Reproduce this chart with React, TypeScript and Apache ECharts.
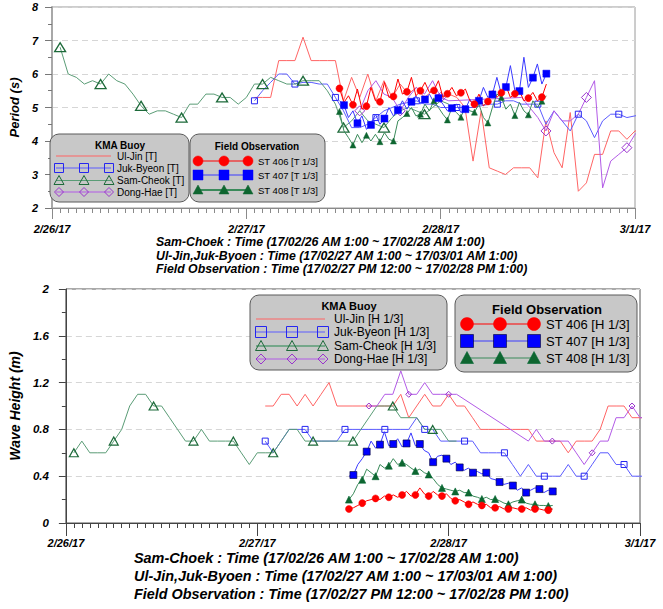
import React, { useEffect, useRef } from "react";
import * as echarts from "echarts";

// x values: hours after 2017-02-26 00:00
const dayLabels = ["2/26/17", "2/27/17", "2/28/17", "3/1/17"];

const samCheokStartHour = 1;
const ulJinStartHour = 25;
const jukByeonStartHour = 25;
const dongHaeHours = [38, 39, 40, 41, 42, 43, 44, 45, 46, 47, 48, 49, 58, 59, 60, 61, 62, 63, 64, 65, 66, 67, 68, 69, 70, 71, 72, 73];
const fieldStartHour = 35.5;
const fieldStepHours = 5 / 9;

// ---------- Period (s) ----------
const samCheokT = [6.8, 6.0, 5.9, 5.7, 5.8, 5.7, 6.0, 5.8, 5.7, 5.4,
  5.05, 4.8, 4.9, 4.9, 4.8, 4.7, 5.1, 5.1, 5.4, 5.4,
  5.3, 5.3, 5.1, 5.3, 5.7, 5.7, 5.9, 5.8, 5.7, 5.7,
  5.8, 5.8, 5.8, 5.5, 5.1, 4.4, 4.6, 4.9, 4.6, 4.5,
  4.4, 4.7, 4.9, 5.0, 4.9, 4.8, 5.0, 5.2, 5.1];
const ulJinT = [5.3, 5.3, 5.3, 6.4, 6.4, 6.4, 7.1, 6.4, 6.4, 6.4,
  6.4, 5.2, 5.9, 5.3, 6.0, 5.2, 5.8, 5.3, 5.7, 5.4,
  5.6, 5.3, 5.5, 5.3, 5.4, 5.3, 5.0, 3.4, 4.9, 3.2,
  3.1, 3.0, 3.2, 3.2, 3.2, 2.9, 4.6, 3.65, 3.2, 4.85,
  2.5, 2.75, 3.6, 3.6, 4.3, 4.3, 4.05, 4.3, 4.3];
const jukByeonT = [5.2, 5.5, 5.75, 6.0, 6.0, 5.7, 5.75, 5.75, 5.7, 5.7,
  5.3, 4.9, 4.4, 4.4, 4.5, 4.7, 4.9, 5.0, 5.1, 5.15,
  5.2, 5.1, 5.1, 5.0, 5.0, 5.0, 5.0, 5.0, 5.05, 5.1,
  5.1, 5.2, 5.2, 5.1, 5.1, 5.1, 4.5, 4.9, 4.6, 4.3,
  4.8, 4.6, 4.1, 4.6, 4.8, 4.8, 4.7, 4.75, 4.8];
const dongHaeT = [4.9, 5.5, 5.8, 5.4, 5.3, 4.9, 5.3, 5.6, 5.4, 5.8, 5.3, 5.2,
  5.3, 5.0, 4.7, 4.3, 4.9, 4.6, 4.6, 4.8, 5.3, 5.8, 2.6, 3.4, 3.6, 3.8, 4.2, 4.4];
const st406T = [5.57, 5.15, 5.35, 5.08, 5.55, 4.95, 5.04, 5.6, 5.2, 5.17,
  5.75, 5.3, 5.33, 5.85, 5.4, 5.47, 5.9, 5.35, 5.5, 5.75,
  5.45, 5.51, 5.8, 5.3, 5.41, 5.6, 5.35, 5.44, 5.55, 5.2,
  5.1, 5.4, 5.05, 5.18, 5.5, 5.3, 5.44, 5.65, 5.3, 5.41,
  5.5, 5.2, 5.28, 5.45, 5.2, 5.31, 5.7];
const st407T = [5.2, 5.07, 4.7, 4.9, 4.53, 4.75, 4.35, 4.48, 4.8, 4.5,
  4.67, 5.0, 4.75, 4.92, 5.2, 4.95, 5.17, 5.35, 5.1, 5.24,
  5.4, 5.15, 5.28, 5.1, 4.9, 4.98, 5.1, 4.85, 4.95, 5.25,
  5.0, 5.2, 5.6, 5.3, 5.39, 5.9, 5.4, 5.61, 6.25, 5.5,
  5.49, 6.5, 5.6, 5.89, 6.3, 5.7, 6.01];
const st408T = [4.88, 4.3, 4.1, 3.88, 4.2, 3.95, 4.17, 4.0, 4.2, 3.98,
  4.25, 4.05, 4.0, 4.6, 4.7, 4.82, 5.0, 4.75, 4.8, 5.1,
  4.9, 5.2, 5.0, 4.8, 4.63, 5.0, 4.85, 4.71, 5.05, 4.9,
  4.86, 5.1, 4.7, 4.54, 5.0, 5.4, 5.3, 4.95, 5.1, 4.76,
  5.15, 4.9, 4.78, 5.2, 5.0, 5.19, 5.35];

// ---------- Wave Height (m) ----------
const samCheokH = [0.6, 0.7, 0.6, 0.6, 0.6, 0.7, 0.8, 1.0, 1.1, 1.1,
  1.0, 1.0, 0.9, 0.8, 0.7, 0.7, 0.8, 0.7, 0.7, 0.7,
  0.7, 0.6, 0.5, 0.6, 0.6, 0.6, 0.7, 0.8, 0.8, 0.7,
  0.7, 0.7, 0.7, 0.7, 0.7, 0.7, 0.8, 0.9, 1.0, 1.0,
  1.0, 0.9, 0.9, 0.9, 0.8, 0.8, 0.8, 0.7, 0.7];
const ulJinH = [1.0, 1.0, 1.1, 1.1, 1.0, 1.1, 1.0, 1.1, 1.2, 1.0,
  1.0, 1.0, 1.0, 1.0, 1.0, 1.0, 1.0, 1.1, 0.9, 1.0,
  1.1, 1.0, 1.0, 1.1, 1.0, 1.0, 0.9, 0.8, 0.8, 0.8,
  0.8, 0.8, 0.8, 0.8, 0.7, 0.7, 0.7, 0.7, 0.6, 0.7,
  0.7, 0.7, 0.8, 1.0, 1.0, 1.0, 0.9, 0.9, 0.9];
const jukByeonH = [0.7, 0.6, 0.7, 0.8, 0.8, 0.8, 0.7, 0.7, 0.7, 0.7,
  0.8, 0.8, 0.8, 0.8, 0.8, 0.8, 0.8, 0.8, 0.8, 0.9,
  0.8, 0.8, 0.7, 0.7, 0.7, 0.7, 0.7, 0.6, 0.6, 0.6,
  0.6, 0.5, 0.4, 0.5, 0.4, 0.4, 0.4, 0.4, 0.5, 0.4,
  0.4, 0.5, 0.6, 0.6, 0.5, 0.5, 0.4, 0.4, 0.4];
const dongHaeH = [1.0, 1.0, 1.1, 1.1, 1.3, 1.1, 1.1, 1.2, 1.1, 1.1, 1.1, 1.1,
  0.7, 0.8, 0.7, 0.7, 0.7, 0.7, 0.6, 0.5, 0.6, 0.7, 0.7, 0.9, 0.9, 1.0, 0.9, 0.9];
const st406H = [0.12, 0.13, 0.15, 0.17, 0.19, 0.2, 0.21, 0.2, 0.23, 0.22,
  0.24, 0.22, 0.24, 0.27, 0.23, 0.24, 0.3, 0.25, 0.23, 0.27,
  0.24, 0.23, 0.25, 0.21, 0.19, 0.2, 0.18, 0.16, 0.18, 0.16,
  0.15, 0.16, 0.13, 0.13, 0.14, 0.12, 0.12, 0.13, 0.12, 0.12,
  0.13, 0.11, 0.12, 0.12, 0.11, 0.11, 0.12];
const st407H = [0.4, 0.41, 0.5, 0.55, 0.61, 0.7, 0.64, 0.67, 0.78, 0.66,
  0.675, 0.72, 0.65, 0.68, 0.77, 0.66, 0.675, 0.62, 0.6, 0.52,
  0.57, 0.58, 0.55, 0.5, 0.52, 0.475, 0.45, 0.47, 0.43, 0.44,
  0.42, 0.43, 0.38, 0.37, 0.35, 0.33, 0.34, 0.32, 0.28, 0.3,
  0.26, 0.28, 0.3, 0.29, 0.26, 0.28, 0.27];
const st408H = [0.2, 0.25, 0.33, 0.37, 0.46, 0.43, 0.4, 0.5, 0.47, 0.49,
  0.55, 0.5, 0.515, 0.5, 0.47, 0.445, 0.46, 0.43, 0.415, 0.38,
  0.33, 0.3, 0.29, 0.28, 0.27, 0.28, 0.26, 0.26, 0.23, 0.22,
  0.205, 0.22, 0.2, 0.205, 0.19, 0.17, 0.16, 0.18, 0.19, 0.2,
  0.17, 0.16, 0.16, 0.15, 0.15, 0.145, 0.15];

const topNotes = [
  "Sam-Choek : Time (17/02/26 AM 1:00 ~ 17/02/28 AM 1:00)",
  "Ul-Jin,Juk-Byoen : Time (17/02/27 AM 1:00 ~ 17/03/01 AM 1:00)",
  "Field Observation : Time (17/02/27 PM 12:00 ~ 17/02/28 PM 1:00)",
];
const bottomNotes = topNotes;

const FONT = '"Liberation Sans", Arial, Helvetica, sans-serif';

const C = {
  ulJin: "#ff6464",
  jukLine: "#5c5cff",
  jukMark: "#2626f0",
  samLine: "#5a9c76",
  samMark: "#1d6a3a",
  dongLine: "#b25ae6",
  dongMark: "#9a34cc",
  st406: "#ff0000",
  st407: "#0000ff",
  st407Line: "#3a3aff",
  st408: "#0e6630",
  st408Line: "#3a8a5a",
};

const hoursFrom = (start: number, n: number) => Array.from({ length: n }, (_, i) => start + i);
const fieldHours = (n: number) => Array.from({ length: n }, (_, i) => fieldStartHour + i * fieldStepHours);

function lineSeries(o: any) {
  const every = o.every || 0;
  const offset = o.offset || 0;
  return {
    type: "line",
    name: o.name,
    xAxisIndex: o.axis,
    yAxisIndex: o.axis,
    data: o.xs.map((x: number, i: number) => ({
      value: [x, o.ys[i]],
      symbol: every > 0 && i >= offset && (i - offset) % every === 0 ? o.symbol : "none",
    })),
    symbol: "none",
    symbolSize: o.size || 6,
    showSymbol: true,
    showAllSymbol: true,
    silent: true,
    z: o.z || 2,
    lineStyle: { color: o.lineColor, width: o.lineWidth || 1, opacity: o.opacity == null ? 1 : o.opacity },
    itemStyle: { color: o.fill, borderColor: o.stroke, borderWidth: o.borderWidth == null ? 1 : o.borderWidth },
    emphasis: { disabled: true },
  };
}

function marker(kind: string, cx: number, cy: number, s: number, fill: string, stroke: string, lw: number) {
  const style = { fill, stroke, lineWidth: lw };
  if (kind === "circle") return { type: "circle", z: 12, shape: { cx, cy, r: s / 2 }, style };
  if (kind === "rect") return { type: "rect", z: 12, shape: { x: cx - s / 2, y: cy - s / 2, width: s, height: s }, style };
  if (kind === "triangle")
    return { type: "polygon", z: 12, shape: { points: [[cx, cy - s / 2], [cx + s / 2, cy + s / 2 - 1], [cx - s / 2, cy + s / 2 - 1]] }, style };
  return { type: "polygon", z: 12, shape: { points: [[cx, cy - s / 2], [cx + s / 2, cy], [cx, cy + s / 2], [cx - s / 2, cy]] }, style };
}

function legend(box: any, title: any, rows: any[], lineX: number[], markX: number[], textX: number, fontSize: number) {
  const els: any[] = [];
  els.push({ type: "rect", z: 10, shape: { x: box.x, y: box.y, width: box.w, height: box.h, r: 9 }, style: { fill: "#c8c8c8", stroke: "#5a5a5a", lineWidth: 1 } });
  els.push({ type: "text", z: 11, x: title.x, y: title.y, style: { text: title.text, fill: "#000", fontSize: title.size, fontWeight: "bold", fontFamily: FONT, align: "center", verticalAlign: "middle" } });
  rows.forEach((r) => {
    els.push({ type: "line", z: 11, shape: { x1: lineX[0], y1: r.y, x2: lineX[1], y2: r.y }, style: { stroke: r.line, lineWidth: r.lw || 1 } });
    if (r.kind) markX.forEach((mx) => els.push(marker(r.kind, mx, r.y, r.size, r.fill, r.stroke, r.mlw)));
    els.push({ type: "text", z: 11, x: textX, y: r.y, style: { text: r.text, fill: "#000", fontSize, fontFamily: FONT, align: "left", verticalAlign: "middle" } });
  });
  return els;
}

function notes(lines: string[], x: number, y0: number, dy: number, size: number) {
  return lines.map((t, i) => ({
    type: "text",
    z: 11,
    x,
    y: y0 + i * dy,
    style: { text: t, fill: "#000", fontSize: size, fontWeight: "bold", fontStyle: "italic", fontFamily: FONT, align: "left", verticalAlign: "middle" },
  }));
}

function xAxisCfg(idx: number, axisColor: string, labelMargin: number, majorLen: number) {
  return {
    type: "value",
    gridIndex: idx,
    min: 0,
    max: 72,
    interval: 24,
    axisLine: { show: true, lineStyle: { color: axisColor, width: 1 } },
    axisTick: { show: true, length: majorLen, lineStyle: { color: axisColor } },
    minorTick: { show: true, splitNumber: 24, length: 5, lineStyle: { color: axisColor } },
    splitLine: { show: false },
    minorSplitLine: { show: false },
    axisLabel: {
      margin: labelMargin,
      color: "#000",
      fontSize: 11,
      fontWeight: "bold",
      fontStyle: "italic",
      fontFamily: FONT,
      formatter: (v: number) => dayLabels[Math.round(v / 24)],
    },
  };
}

function yAxisCfg(idx: number, o: any) {
  return {
    type: "value",
    gridIndex: idx,
    min: o.min,
    max: o.max,
    interval: o.interval,
    name: o.name,
    nameLocation: "middle",
    nameGap: o.nameGap,
    nameTextStyle: { color: "#000", fontSize: o.nameSize, fontWeight: "bold", fontStyle: "italic", fontFamily: FONT },
    axisLine: { show: true, lineStyle: { color: o.axisColor, width: o.axisWidth } },
    axisTick: { show: true, length: 7, lineStyle: { color: o.tickColor } },
    minorTick: { show: true, splitNumber: 2, length: 4, lineStyle: { color: o.tickColor } },
    splitLine: { show: true, lineStyle: { color: "#d6d6d6", type: [6, 4], width: 1 } },
    axisLabel: { margin: o.labelMargin, color: "#000", fontSize: o.labelSize, fontWeight: "bold", fontStyle: "italic", fontFamily: FONT },
  };
}

export default function App() {
  const ref = useRef<HTMLDivElement>(null);
  useEffect(() => {
    if (!ref.current) return;
    const chart = echarts.init(ref.current, undefined, { renderer: "svg" });

    const series: any[] = [
      // ---- top: period ----
      lineSeries({ name: "Ul-Jin [T]", axis: 0, xs: hoursFrom(ulJinStartHour, ulJinT.length), ys: ulJinT, lineColor: C.ulJin }),
      lineSeries({ name: "Juk-Byeon [T]", axis: 0, xs: hoursFrom(jukByeonStartHour, jukByeonT.length), ys: jukByeonT, lineColor: C.jukLine, every: 5, symbol: "rect", size: 6, fill: "rgba(255,255,255,0)", stroke: C.jukMark }),
      lineSeries({ name: "Sam-Cheok [T]", axis: 0, xs: hoursFrom(samCheokStartHour, samCheokT.length), ys: samCheokT, lineColor: C.samLine, every: 5, symbol: "triangle", size: [11, 9], fill: "rgba(255,255,255,0)", stroke: C.samMark, borderWidth: 1.3 }),
      lineSeries({ name: "Dong-Hae [T]", axis: 0, xs: dongHaeHours, ys: dongHaeT, lineColor: C.dongLine, every: 5, symbol: "diamond", size: 10, fill: "rgba(255,255,255,0)", stroke: C.dongMark }),
      lineSeries({ name: "ST 408 [T 1/3]", axis: 0, xs: fieldHours(st408T.length), ys: st408T, lineColor: C.st408Line, every: 3, symbol: "triangle", size: 6, fill: C.st408, stroke: C.st408, borderWidth: 0.5, z: 3 }),
      lineSeries({ name: "ST 407 [T 1/3]", axis: 0, xs: fieldHours(st407T.length), ys: st407T, lineColor: C.st407Line, every: 3, offset: 1, symbol: "rect", size: 7, fill: C.st407, stroke: C.st407, borderWidth: 0.5, z: 3 }),
      lineSeries({ name: "ST 406 [T 1/3]", axis: 0, xs: fieldHours(st406T.length), ys: st406T, lineColor: C.st406, every: 3, symbol: "circle", size: 7, fill: C.st406, stroke: C.st406, borderWidth: 0.5, z: 3 }),
      // ---- bottom: wave height ----
      lineSeries({ name: "Ul-Jin [H 1/3]", axis: 1, xs: hoursFrom(ulJinStartHour, ulJinH.length), ys: ulJinH, lineColor: C.ulJin }),
      lineSeries({ name: "Juk-Byeon [H 1/3]", axis: 1, xs: hoursFrom(jukByeonStartHour, jukByeonH.length), ys: jukByeonH, lineColor: C.jukLine, every: 5, symbol: "rect", size: 6, fill: "rgba(255,255,255,0)", stroke: C.jukMark }),
      lineSeries({ name: "Sam-Cheok [H 1/3]", axis: 1, xs: hoursFrom(samCheokStartHour, samCheokH.length), ys: samCheokH, lineColor: C.samLine, every: 5, symbol: "triangle", size: [9, 8], fill: "rgba(255,255,255,0)", stroke: C.samMark, borderWidth: 1.2 }),
      lineSeries({ name: "Dong-Hae [H 1/3]", axis: 1, xs: dongHaeHours, ys: dongHaeH, lineColor: C.dongLine, every: 5, symbol: "diamond", size: 6, fill: "rgba(255,255,255,0)", stroke: C.dongMark }),
      lineSeries({ name: "ST 408 [H 1/3]", axis: 1, xs: fieldHours(st408H.length), ys: st408H, lineColor: C.st408Line, every: 3, symbol: "triangle", size: 7, fill: C.st408, stroke: "#063", borderWidth: 0.6, z: 3 }),
      lineSeries({ name: "ST 407 [H 1/3]", axis: 1, xs: fieldHours(st407H.length), ys: st407H, lineColor: C.st407Line, every: 3, offset: 1, symbol: "rect", size: 7, fill: C.st407, stroke: "#003", borderWidth: 0.6, z: 3 }),
      lineSeries({ name: "ST 406 [H 1/3]", axis: 1, xs: fieldHours(st406H.length), ys: st406H, lineColor: C.st406, every: 3, symbol: "circle", size: 7, fill: C.st406, stroke: C.st406, borderWidth: 0.5, z: 3 }),
    ];

    const graphic: any[] = [
      ...legend(
        { x: 50, y: 134, w: 139, h: 68 },
        { text: "KMA Buoy", x: 120, y: 145, size: 10 },
        [
          { y: 156, text: "Ul-Jin [T]", line: C.ulJin },
          { y: 168, text: "Juk-Byeon [T]", line: C.jukLine, kind: "rect", size: 9, fill: "rgba(255,255,255,0)", stroke: C.jukMark, mlw: 1 },
          { y: 180.5, text: "Sam-Cheok [T]", line: C.samLine, kind: "triangle", size: 10, fill: "rgba(255,255,255,0)", stroke: C.samMark, mlw: 1 },
          { y: 192, text: "Dong-Hae [T]", line: C.dongLine, kind: "diamond", size: 9, fill: "rgba(255,255,255,0)", stroke: C.dongMark, mlw: 1 },
        ],
        [56, 111], [59, 84, 109], 117, 10
      ),
      ...legend(
        { x: 190, y: 134, w: 135, h: 68 },
        { text: "Field Observation", x: 257, y: 146, size: 10 },
        [
          { y: 161, text: "ST 406 [T 1/3]", line: C.st406, kind: "circle", size: 10, fill: C.st406, stroke: C.st406, mlw: 0.5 },
          { y: 175, text: "ST 407 [T 1/3]", line: C.st407Line, kind: "rect", size: 10, fill: C.st407, stroke: C.st407, mlw: 0.5 },
          { y: 190, text: "ST 408 [T 1/3]", line: C.st408Line, lw: 2, kind: "triangle", size: 10, fill: C.st408, stroke: C.st408, mlw: 0.5 },
        ],
        [198, 248], [198, 224, 248], 258, 9.5
      ),
      ...legend(
        { x: 250, y: 295, w: 197, h: 75 },
        { text: "KMA Buoy", x: 349, y: 306, size: 11 },
        [
          { y: 319, text: "Ul-Jin [H 1/3]", line: C.ulJin },
          { y: 332, text: "Juk-Byeon [H 1/3]", line: C.jukLine, kind: "rect", size: 11, fill: "rgba(255,255,255,0)", stroke: C.jukMark, mlw: 1 },
          { y: 346, text: "Sam-Cheok [H 1/3]", line: C.samLine, lw: 1.5, kind: "triangle", size: 11, fill: "rgba(255,255,255,0)", stroke: C.samMark, mlw: 1 },
          { y: 359, text: "Dong-Hae [H 1/3]", line: C.dongLine, kind: "diamond", size: 10, fill: "rgba(255,255,255,0)", stroke: C.dongMark, mlw: 1 },
        ],
        [256, 325], [261, 292, 323], 334, 12
      ),
      ...legend(
        { x: 455, y: 295, w: 182, h: 77 },
        { text: "Field Observation", x: 547, y: 309, size: 13 },
        [
          { y: 324, text: "ST 406 [H 1/3]", line: C.st406, kind: "circle", size: 13, fill: C.st406, stroke: C.st406, mlw: 0.5 },
          { y: 341, text: "ST 407 [H 1/3]", line: C.st407Line, kind: "rect", size: 13, fill: C.st407, stroke: "#003", mlw: 0.6 },
          { y: 358, text: "ST 408 [H 1/3]", line: C.st408Line, kind: "triangle", size: 13, fill: C.st408, stroke: "#063", mlw: 0.6 },
        ],
        [467, 534], [467, 500, 534], 546, 13
      ),
      ...notes(topNotes, 156, 242, 13.5, 12.3),
      ...notes(bottomNotes, 134, 558, 18, 14.4),
    ];

    chart.setOption({
      animation: false,
      backgroundColor: "#ffffff",
      grid: [
        { left: 47, top: 7, width: 588, height: 201, show: true, borderColor: "#9a9a9a", borderWidth: 1, backgroundColor: "transparent" },
        { left: 63, top: 289, width: 577, height: 234, show: true, borderColor: "#555", borderWidth: 1, backgroundColor: "transparent" },
      ],
      xAxis: [xAxisCfg(0, "#8a8a8a", 15, 11), xAxisCfg(1, "#444", 14, 13)],
      yAxis: [
        yAxisCfg(0, { min: 2, max: 8, interval: 1, name: "Period (s)", nameGap: 21, nameSize: 13, axisColor: "#a8a8a8", axisWidth: 2, tickColor: "#777", labelMargin: 14, labelSize: 11 }),
        yAxisCfg(1, { min: 0, max: 2, interval: 0.4, name: "Wave Height (m)", nameGap: 35, nameSize: 14, axisColor: "#444", axisWidth: 1, tickColor: "#444", labelMargin: 17, labelSize: 11.5 }),
      ],
      series,
      graphic,
    });
    return () => chart.dispose();
  }, []);

  return <div ref={ref} style={{ position: "absolute", left: 0, top: 0, width: 663, height: 609 }} />;
}
